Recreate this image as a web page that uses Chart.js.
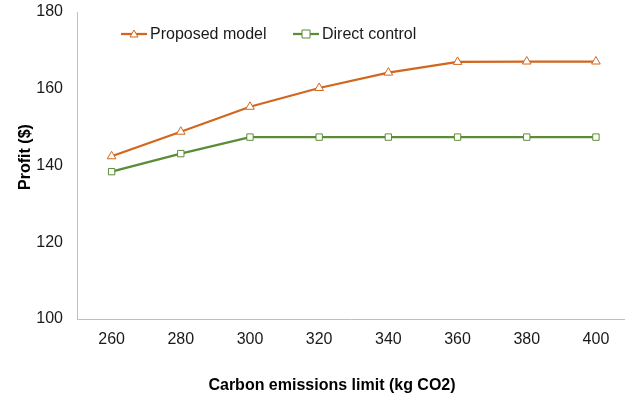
<!DOCTYPE html>
<html>
<head>
<meta charset="utf-8">
<script src="https://cdn.jsdelivr.net/npm/chart.js@4"></script>
<style>
  html, body { margin: 0; padding: 0; background: #fff; }
  #wrap { width: 625px; height: 402px; }
</style>
</head>
<body>
<div id="wrap"><canvas id="chart" width="625" height="402"></canvas></div>
<script>
const limits = [260, 280, 300, 320, 340, 360, 380, 400];
const proposed = [142.4, 148.8, 155.3, 160.2, 164.2, 167.0, 167.1, 167.1];
const direct = [138.4, 143.1, 147.4, 147.4, 147.4, 147.4, 147.4, 147.4];
const yTicks = [100, 120, 140, 160, 180];

const orange = "#D2661E";
const green = "#5B8C36";
const fontName = "'Liberation Sans', Arial, sans-serif";

// legend inside the plot (Excel style: line with marker in the middle)
// and the two axis titles, which sit off-centre in the original
const decorations = {
    id: 'decorations',
    afterDraw(chart) {
        const ctx = chart.ctx;
        const items = [
            { text: "Proposed model", color: orange, shape: 'triangle', x: 121 },
            { text: "Direct control", color: green, shape: 'rect', x: 293 }
        ];
        const y = 34;
        ctx.save();
        items.forEach(it => {
            ctx.strokeStyle = it.color;
            ctx.lineWidth = 2.25;
            ctx.beginPath();
            ctx.moveTo(it.x, y);
            ctx.lineTo(it.x + 26, y);
            ctx.stroke();
            const cx = it.x + 13;
            ctx.fillStyle = "#fff";
            ctx.lineWidth = 1;
            ctx.beginPath();
            if (it.shape === 'triangle') {
                ctx.moveTo(cx, y - 4);
                ctx.lineTo(cx + 4, y + 3);
                ctx.lineTo(cx - 4, y + 3);
                ctx.closePath();
            } else {
                ctx.rect(cx - 4, y - 4, 8, 8);
            }
            ctx.fill();
            ctx.stroke();
            ctx.fillStyle = "#1a1a1a";
            ctx.font = "16px " + fontName;
            ctx.textAlign = "left";
            ctx.textBaseline = "middle";
            ctx.fillText(it.text, it.x + 29, y + 1);
        });

        ctx.fillStyle = "#000";
        ctx.font = "bold 16px " + fontName;
        ctx.textAlign = "center";
        ctx.textBaseline = "middle";
        ctx.fillText("Carbon emissions limit (kg CO2)", 332, 386);

        ctx.translate(26, 157);
        ctx.rotate(-Math.PI / 2);
        ctx.fillText("Profit ($)", 0, 0);
        ctx.restore();
    }
};

const toPoints = vals => vals.map((v, i) => ({ x: limits[i], y: v }));

new Chart(document.getElementById('chart'), {
    type: 'line',
    data: {
        datasets: [
            {
                label: "Proposed model",
                data: toPoints(proposed),
                borderColor: orange,
                backgroundColor: "#fff",
                borderWidth: 2.25,
                pointStyle: 'triangle',
                pointRadius: 5,
                pointBorderWidth: 1,
                pointBorderColor: orange,
                pointBackgroundColor: "#fff",
                tension: 0
            },
            {
                label: "Direct control",
                data: toPoints(direct),
                borderColor: green,
                backgroundColor: "#fff",
                borderWidth: 2.25,
                pointStyle: 'rect',
                pointRadius: 4.5,
                pointBorderWidth: 1,
                pointBorderColor: green,
                pointBackgroundColor: "#fff",
                tension: 0
            }
        ]
    },
    options: {
        responsive: false,
        animation: false,
        layout: { autoPadding: false, padding: { top: 12, right: 0, left: 0, bottom: 0 } },
        plugins: {
            legend: { display: false },
            tooltip: { enabled: false }
        },
        scales: {
            x: {
                type: 'linear',
                min: 250,
                max: 408.4,
                afterBuildTicks: axis => { axis.ticks = limits.map(v => ({ value: v })); },
                afterFit: scale => {
                    scale.height = 402 - 319;
                    scale.paddingLeft = 0;
                    scale.paddingRight = 0;
                },
                grid: { display: false, drawTicks: false },
                border: { display: true, color: "#BFBFBF", width: 1 },
                ticks: { color: "#1a1a1a", font: { family: fontName, size: 16 }, padding: 11 }
            },
            y: {
                min: yTicks[0],
                max: yTicks[yTicks.length - 1],
                afterBuildTicks: axis => { axis.ticks = yTicks.map(v => ({ value: v })); },
                afterFit: scale => {
                    scale.width = 77;
                    scale.paddingTop = 0;
                    scale.paddingBottom = 0;
                },
                grid: { display: false, drawTicks: false },
                border: { display: true, color: "#BFBFBF", width: 1 },
                ticks: { color: "#1a1a1a", font: { family: fontName, size: 16 }, padding: 14 }
            }
        }
    },
    plugins: [decorations]
});
</script>
</body>
</html>
